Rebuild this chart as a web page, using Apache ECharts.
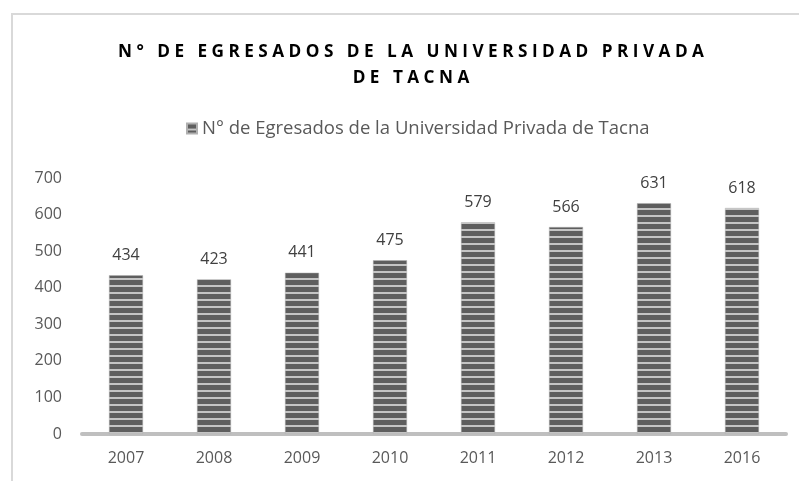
<!DOCTYPE html>
<html>
<head>
<meta charset="utf-8">
<script src="https://cdn.jsdelivr.net/npm/echarts@6/dist/echarts.min.js"></script>
<style>
  html, body { margin: 0; padding: 0; background: #fff; }
  #chart { width: 799px; height: 481px; }
</style>
</head>
<body>
<div id="chart"></div>
<script>
const years = ["2007", "2008", "2009", "2010", "2011", "2012", "2013", "2016"];
const egresados = [434, 423, 441, 475, 579, 566, 631, 618];
const seriesName = "N° de Egresados de la Universidad Privada de Tacna";
const titleText = "N °   D E   E G R E S A D O S   D E   L A   U N I V E R S I D A D   P R I V A D A\nD E   T A C N A";

// horizontal stripe pattern like the Excel fill
function stripePattern() {
  const c = document.createElement("canvas");
  c.width = 8;
  c.height = 7;
  const ctx = c.getContext("2d");
  ctx.fillStyle = "#5e5e5e";
  ctx.fillRect(0, 0, 8, 7);
  ctx.fillStyle = "#c4c4c4";
  ctx.fillRect(0, 5, 8, 2);
  return c;
}

const chart = echarts.init(document.getElementById("chart"));
const pattern = { image: stripePattern(), repeat: "repeat" };

chart.setOption({
  animation: false,
  textStyle: { fontFamily: "Open Sans" },
  graphic: [
    {
      type: "rect",
      shape: { x: 12, y: 14, width: 820, height: 500 },
      style: { fill: "none", stroke: "#d9d9d9", lineWidth: 2 },
      silent: true,
    },
  ],
  title: {
    text: titleText,
    left: 406,
    textAlign: "center",
    top: 34,
    textStyle: {
      fontFamily: "Open Sans",
      fontSize: 17.2,
      fontWeight: "bold",
      color: "#000",
      lineHeight: 26,
    },
  },
  legend: {
    top: 114,
    left: 181,
    itemWidth: 10,
    itemHeight: 10,
    textStyle: { fontSize: 18.5, color: "#595959", fontFamily: "Open Sans" },
    data: [{ name: seriesName, icon: "rect" }],
  },
  grid: { left: 82, right: 13, top: 178, bottom: 47 },
  xAxis: {
    type: "category",
    data: years,
    axisTick: { show: false },
    axisLine: { lineStyle: { color: "#bfbfbf", width: 4 } },
    axisLabel: { color: "#595959", fontSize: 16, margin: 16 },
  },
  yAxis: {
    type: "value",
    min: 0,
    max: 700,
    interval: 100,
    splitLine: { show: false },
    axisLine: { show: false },
    axisLabel: { color: "#595959", fontSize: 16, margin: 20 },
  },
  series: [
    {
      name: seriesName,
      type: "bar",
      data: egresados,
      barWidth: 34,
      itemStyle: { color: pattern, borderColor: "#b0b0b0", borderWidth: 0.5 },
      label: {
        show: true,
        position: "top",
        distance: 12,
        color: "#404040",
        fontSize: 16,
      },
    },
  ],
});
</script>
</body>
</html>
